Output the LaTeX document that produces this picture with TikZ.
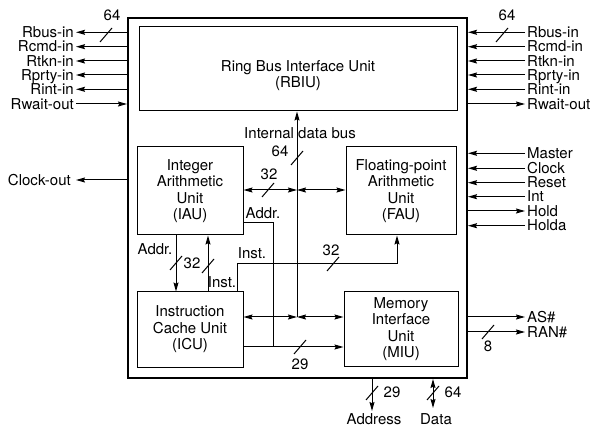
\documentclass[tikz,border=0pt]{standalone}
\usepackage{fontspec}
\setmainfont{TeX Gyre Heros}
\usetikzlibrary{arrows.meta}
\newcommand\dfont{\fontsize{15}{16.5}\selectfont}
\begin{document}
\begin{tikzpicture}[x=1pt,y=-1pt,
  >={Stealth[length=9pt,width=5pt,inset=1.2pt]},
  wire/.style={line width=1pt},
  unit/.style={draw, line width=1pt, align=center, inner sep=0pt, font=\dfont},
  lbl/.style={font=\dfont, inner sep=1pt},
  sigl/.style={lbl, anchor=east, text height=10.5pt, text depth=0pt, inner sep=2pt},
  sigr/.style={lbl, anchor=west, text height=10.5pt, text depth=0pt, inner sep=2pt},
  busmark/.pic={\draw[line width=1pt] (-6,7) -- (6,-7);}]
\useasboundingbox (0,0) rectangle (594,427);

% chip outline
\node[draw, line width=2pt, minimum width=339pt, minimum height=360pt, inner sep=0pt] (chip) at (297.5,198) {};

% units
\node[unit, minimum width=318pt, minimum height=84pt] (rbiu) at (298,69) {};
\node[lbl, align=center] (rbiut) at (298,75.5) {Ring Bus Interface Unit\\(RBIU)};
\node[unit, minimum width=106pt, minimum height=88pt] (iau) at (190,191) {Integer\\Arithmetic\\Unit\\(IAU)};
\node[unit, minimum width=110pt, minimum height=88pt] (fau) at (401,191) {Floating-point\\Arithmetic\\Unit\\(FAU)};
\node[unit, minimum width=106pt, minimum height=75pt] (icu) at (190,329.5) {Instruction\\Cache Unit\\(ICU)};
\node[unit, minimum width=114pt, minimum height=74pt] (miu) at (401,329) {Memory\\Interface\\Unit\\(MIU)};

% internal data bus
\coordinate (j1) at (297,190);
\coordinate (j2) at (297,317);
\draw[wire,->] (j2) -- (rbiu.south -| j2);
\draw[wire,<->] (iau.east |- j1) -- (j1);
\draw[wire,<->] (j1) -- (fau.west |- j1);
\draw[wire,<->] (icu.east |- j2) -- (j2);
\draw[wire,<->] (j2) -- (miu.west |- j2);
\pic at (297,158) {busmark};
\node[lbl] (t64a) at (280,151) {64};
\node[lbl] (tidb) at (300,133) {Internal data bus};
\pic at (268,190) {busmark};
\node[lbl] (t32a) at (269,174) {32};

% address from IAU to MIU
\coordinate (addrT) at (273,223);
\coordinate (addrM) at (273,347);
\draw[wire] (iau.east |- addrT) -- (addrT) -- (addrM);
\node[lbl] (taddr1) at (263,213) {Addr.};
\draw[wire,->] (icu.east |- addrM) -- (miu.west |- addrM);
\pic at (300,347) {busmark};
\node[lbl] (t29a) at (300,364) {29};

% instruction to FAU
\coordinate (instA) at (237,264);
\coordinate (instB) at (397,264);
\draw[wire,->] (icu.north -| instA) -- (instA) -- (instB) -- (fau.south -| instB);
\pic at (333,264) {busmark};
\node[lbl] (t32b) at (331,250) {32};
\node[lbl] (tinst1) at (252,253) {Inst.};

% IAU <-> ICU
\coordinate (addrX) at (176,263);
\coordinate (instX) at (208,266);
\draw[wire,->] (iau.south -| addrX) -- (icu.north -| addrX);
\draw[wire,->] (icu.north -| instX) -- (iau.south -| instX);
\pic at (addrX) {busmark};
\pic at (instX) {busmark};
\node[lbl] (t32c) at (192,263) {32};
\node[lbl] (taddr2) at (155,249) {Addr.};
\node[lbl] (tinst2) at (222,282) {Inst.};

% left ring bus signals
\node[sigl] (L1) at (76,32.3) {Rbus-in};
\node[sigl] (L2) at (76,46.7) {Rcmd-in};
\node[sigl] (L3) at (76,61) {Rtkn-in};
\node[sigl] (L4) at (76,75) {Rprty-in};
\node[sigl] (L5) at (76,89.3) {Rint-in};
\node[sigl] (L6) at (76,104) {Rwait-out};
\foreach \n in {L1,L2,L3,L4,L5}
  \draw[wire,->] (chip.west |- \n.east) -- (\n.east);
\draw[wire,->] (L6.east) -- (chip.west |- L6.east);
\pic at (106,35) {busmark};
\node[lbl] (t64l) at (112,15) {64};
\node[sigl, inner xsep=5pt] (Lclk) at (76,180) {Clock-out};
\draw[wire,->] (chip.west |- Lclk.east) -- (Lclk.east);

% right ring bus signals
\node[sigr] (R1) at (525,32.3) {Rbus-in};
\node[sigr] (R2) at (525,46.7) {Rcmd-in};
\node[sigr] (R3) at (525,61) {Rtkn-in};
\node[sigr] (R4) at (525,75) {Rprty-in};
\node[sigr] (R5) at (525,89.3) {Rint-in};
\node[sigr] (R6) at (525,104) {Rwait-out};
\foreach \n in {R1,R2,R3,R4,R5}
  \draw[wire,->] (\n.west) -- (chip.east |- \n.west);
\draw[wire,->] (chip.east |- R6.west) -- (R6.west);
\pic at (502,35) {busmark};
\node[lbl] (t64r) at (507,15) {64};

% control signals
\node[sigr] (M1) at (525,153.3) {Master};
\node[sigr] (M2) at (525,168.3) {Clock};
\node[sigr] (M3) at (525,182.7) {Reset};
\node[sigr] (M4) at (525,196.7) {Int};
\node[sigr] (M5) at (525,211) {Hold};
\node[sigr] (M6) at (525,225.7) {Holda};
\foreach \n in {M1,M2,M3,M4,M6}
  \draw[wire,->] (\n.west) -- (chip.east |- \n.west);
\draw[wire,->] (chip.east |- M5.west) -- (M5.west);

% memory signals
\node[sigr] (AS) at (525,317) {AS\#};
\node[sigr] (RAN) at (525,332) {RAN\#};
\draw[wire,->] (chip.east |- AS.west) -- (AS.west);
\draw[wire,->] (chip.east |- RAN.west) -- (RAN.west);
\pic at (488,332) {busmark};
\node[lbl] (t8) at (488,346) {8};

% bottom
\coordinate (addrEnd) at (372,411);
\coordinate (dataEnd) at (433,408);
\draw[wire,->] (chip.south -| addrEnd) -- (addrEnd);
\draw[wire,<->] (chip.south -| dataEnd) -- (dataEnd);
\pic at (372,393) {busmark};
\pic at (433,393) {busmark};
\node[lbl] (t29b) at (392,392) {29};
\node[lbl] (t64b) at (453,392) {64};
\node[lbl] (taddress) at (374,419) {Address};
\node[lbl] (tdata) at (436,419) {Data};
\end{tikzpicture}
\end{document}
